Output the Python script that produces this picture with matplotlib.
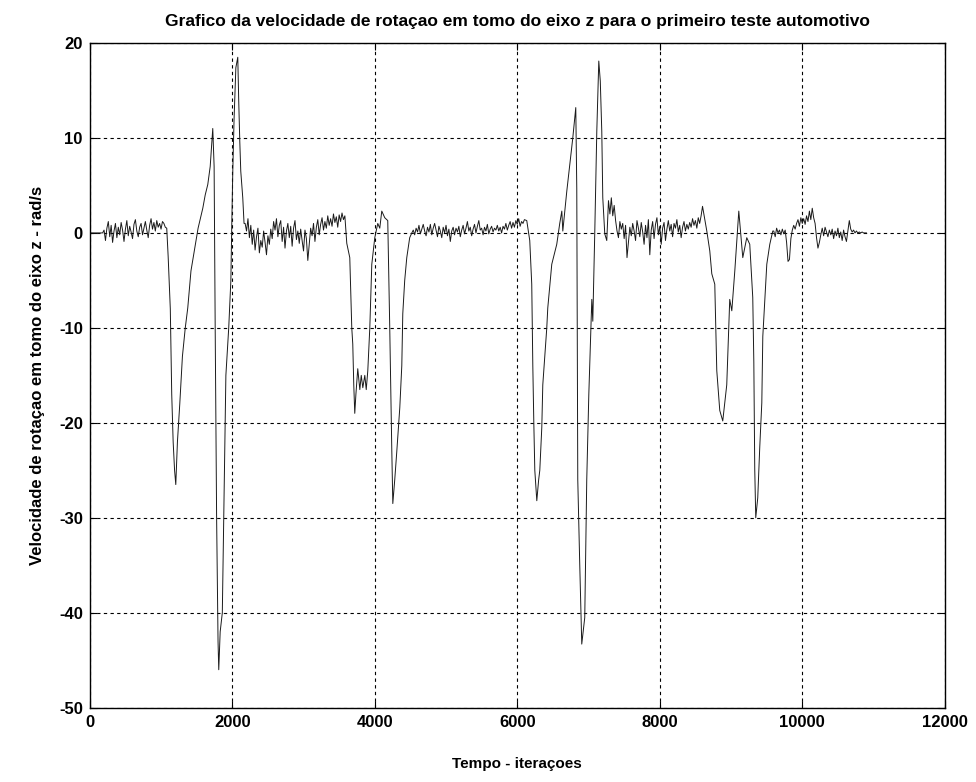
import numpy as np
import matplotlib
matplotlib.use("Agg")
import matplotlib.pyplot as plt

plt.rcParams['font.family'] = ['Liberation Sans', 'DejaVu Sans']

# --- data (iteration, rad/s) ---
# quiet stretches: start iteration, sample step, values
quiet_a_start, quiet_step = 0, 20
quiet_a = [0, 0, 0, 0, 0, 0, 0, 0, 0, 0,
           0.3, -0.8, 0.5, 1.2, -0.4, 0.8, -1.0, 0.2, 1.0, -0.5,
           0.6, -0.2, 1.1, 0.3, -0.9, 0.4, 1.3, -0.3, 0.7, 0.1,
           -0.6, 0.9, 1.4, 0.2, -0.4, 0.6, 1.0, -0.2, 0.5, 1.2,
           0.3, -0.5, 0.8, 1.5, 0.4, 1.1, 0.2, 1.3, 0.6, 1.0,
           0.4, 1.2, 1.0, 0.6]

quiet_b_start = 2180
quiet_b = [1.0, 0.2, 1.5, -0.5, 0.8, -1.2, 0.3, -1.8, -0.4, 0.5,
           -2.1, -0.8, -1.5, 0.2, -1.0, -2.3, -0.3, -1.2, 0.4, -0.6,
           1.2, 0.3, 1.5, -0.4, 0.8, 1.3, -0.9, 0.6, -1.6, 0.2,
           1.0, -0.5, 0.7, -1.4, 0.5, 1.3, -0.7, 0.2, -1.1, 0.4,
           -0.8, -1.9, 0.3, -0.6, -2.9, -1.2, 0.5, -0.3, 1.0, -0.9,
           0.6, 1.4, -0.2, 0.9, 1.6, 0.3, 1.2, 0.5, 1.8, 0.8,
           1.5, 0.7, 2.0, 1.1, 1.7, 0.6, 1.9, 1.2, 2.1, 1.4, 1.8]

quiet_c_start = 4520
quiet_c = [0.0, 0.3, -0.2, 0.5, 0.1, 0.8, -0.1, 0.4, 0.9, 0.2,
           -0.3, 0.6, 0.1, 0.9, -0.2, 0.5, 1.0, 0.3, -0.4, 0.7,
           0.2, -0.5, 0.6, 0.0, 0.8, -0.3, 0.4, -0.9, 0.2, 0.6,
           -0.2, 0.5, 0.1, 0.7, -0.4, 0.3, 0.8, -0.1, 0.5, 1.2,
           0.2, 0.6, -0.3, 0.4, 0.9, 0.0, 0.7, 1.3, 0.3, 0.5,
           -0.2, 0.6, 0.2, 0.9, -0.1, 0.4, 0.7, 0.1, 0.5, 0.3,
           0.8, 0.2, 0.6, 0.0, 0.7, 0.4, 1.0, 0.3, 0.8, 1.2,
           0.5, 1.1, 0.6, 1.3, 0.9, 1.5, 0.7, 1.2, 1.0, 1.4]

quiet_d_start = 7300
quiet_d = [2.0, 3.7, 1.8, 2.9, 1.3, 0.2, -0.5, 1.2, 0.4, 1.0,
           -0.6, 0.8, -2.6, -1.0, 0.6, -0.3, 1.0, 0.2, -0.8, 1.3,
           0.5, -0.4, 1.1, 0.1, -1.2, 0.8, -0.5, 1.4, -2.3, 0.3,
           1.2, -0.6, 0.9, 1.6, -0.2, 0.7, -1.2, 0.5, 1.1, -0.8,
           0.4, 1.3, 0.2, 0.9, -0.4, 1.0, 0.5, 1.4, 0.1, 0.8,
           -0.5, 0.6, 1.2, 0.2, 0.9, 0.4, 1.1, 0.6, 1.5, 0.8,
           1.3, 0.5, 1.6, 1.0, 1.8, 2.8]

quiet_e_start = 9600
quiet_e = [0.2, -0.4, 0.5, 0.0, 0.3, -0.2, 0.4, -0.1, 0.3, -1.0,
           -3.0, -2.8, -0.6, 0.3, 0.8, 0.4, 1.0, 1.4, 0.7, 1.6,
           1.0, 1.5, 0.9, 1.8, 1.2, 2.3, 1.4, 2.6, 1.6, 1.0,
           -0.5, -1.6, -1.0, -0.2, 0.5, -0.3, 0.6, 0.1, -0.4, 0.3,
           -0.2, 0.4, -0.6, 0.2, -0.3, 0.5, -0.5, 0.1, -0.8, 0.3,
           -0.4, -0.9, 0.2, 1.3, 0.4, 0.1, 0.3, 0.0, 0.2, 0.0,
           0.1, 0.0, 0.1, 0.0, 0.0, 0.0]

# manoeuvres: explicit (iteration, value) points
man1_x = [1080, 1100, 1130, 1150, 1170, 1190, 1207, 1230, 1263, 1300, 1340, 1375,
          1420, 1474, 1520, 1586, 1620, 1656, 1690, 1726, 1745, 1760, 1780, 1800,
          1810, 1830, 1860, 1880, 1910, 1950, 1980, 1993, 2007, 2025, 2050, 2077,
          2090, 2105, 2119, 2147, 2165]
man1_y = [0.5, -2.5, -8, -17, -22, -25, -26.5, -22, -18, -13, -10, -7.9,
          -4, -1.6, 0.5, 2.6, 4, 5.1, 7, 11, 7, -10, -30, -43,
          -46, -42, -40, -30, -15, -10, -5, 1, 6.5, 12, 17.4, 18.5,
          14, 9.7, 6.5, 3.7, 1]

man2_x = [3607, 3649, 3677, 3691, 3705, 3719, 3735, 3761, 3790, 3810, 3832, 3860,
          3880, 3902, 3930, 3958, 4000, 4042, 4070, 4098, 4140, 4182, 4210, 4239,
          4253, 4280, 4309, 4351, 4379, 4393, 4420, 4449, 4490]
man2_y = [-1.1, -2.6, -10, -11.7, -16, -19, -17, -14.3, -16.5, -15, -16.3, -15,
          -16.5, -14.5, -10, -3.3, -0.5, 1, 0.5, 2.3, 1.6, 1.3, -10, -23,
          -28.5, -26, -23, -18.4, -14, -8.5, -5, -2.6, -0.5]

man3_x = [6133, 6175, 6203, 6218, 6232, 6246, 6274, 6300, 6316, 6344, 6358, 6414,
          6428, 6484, 6554, 6596, 6625, 6639, 6695, 6737, 6779, 6821, 6835, 6849,
          6877, 6905, 6925, 6947, 6975, 7004, 7046, 7060, 7088, 7116, 7144, 7165,
          7186, 7200, 7228, 7256, 7280]
man3_y = [1.3, -0.8, -5.4, -14, -20, -25, -28.2, -26, -25, -20.5, -16, -10,
          -7.9, -3.3, -1.2, 1, 2.3, 0.2, 4.4, 7.2, 10, 13.2, 4.7, -26,
          -35, -43.3, -42, -40.5, -26, -17, -7, -9.3, 0.2, 10.7, 18.1, 16,
          10.7, 3.7, -0.1, -0.8, 3.4]

man4_x = [8660, 8702, 8730, 8772, 8800, 8842, 8884, 8910, 8940, 8982, 9011, 9053,
          9109, 9137, 9165, 9221, 9263, 9305, 9320, 9333, 9347, 9375, 9403, 9432,
          9446, 9474, 9502, 9544, 9586]
man4_y = [0.2, -1.9, -4.3, -5.4, -14.5, -18.7, -19.8, -18, -16, -7, -8.2, -4,
          2.3, -0.1, -2.6, -0.5, -1.2, -6.8, -13.6, -24.9, -30, -27.9, -22.6, -17.9,
          -10.9, -7, -3.3, -1.2, 0.2]

x_ticks = [0, 2000, 4000, 6000, 8000, 10000, 12000]
y_ticks = [-50, -40, -30, -20, -10, 0, 10, 20]


def quiet_x(start, vals):
    '''Iteration numbers for an evenly sampled quiet stretch'''
    return start + quiet_step * np.arange(len(vals))


t = np.concatenate([quiet_x(quiet_a_start, quiet_a), man1_x,
                    quiet_x(quiet_b_start, quiet_b), man2_x,
                    quiet_x(quiet_c_start, quiet_c), man3_x,
                    quiet_x(quiet_d_start, quiet_d), man4_x,
                    quiet_x(quiet_e_start, quiet_e)])
w = np.concatenate([quiet_a, man1_y, quiet_b, man2_y, quiet_c, man3_y,
                    quiet_d, man4_y, quiet_e])

fig = plt.figure(figsize=(9.76, 7.82), dpi=100)
ax = fig.add_axes([0.092, 0.095, 0.876, 0.850])

ax.plot(t, w, color='#1a1a1a', linewidth=0.7)

ax.set_xlim(0, 12000)
ax.set_ylim(-50, 20)
ax.set_xticks(x_ticks)
ax.set_yticks(y_ticks)
ax.set_xticklabels([str(v) for v in x_ticks], fontsize=12, weight='bold')
ax.set_yticklabels([str(v) for v in y_ticks], fontsize=12, weight='bold')
ax.tick_params(direction='in', top=True, right=True, length=5, width=0.8, pad=5)

# MATLAB style dotted grid
ax.grid(True, color='black', linestyle=(0, (3, 3)), linewidth=0.8)
for s in ax.spines.values():
    s.set_linewidth(1.0)

ax.set_title("Grafico da velocidade de rotaçao em tomo do eixo z para o primeiro teste automotivo",
             fontsize=12.5, weight='bold', pad=12)
ax.set_xlabel("Tempo - iteraçoes", fontsize=11, weight='bold', labelpad=20)
ax.set_ylabel("Velocidade de rotaçao em tomo do eixo z - rad/s", fontsize=12,
              weight='bold', labelpad=10)

fig.savefig("out.png", dpi=100)
